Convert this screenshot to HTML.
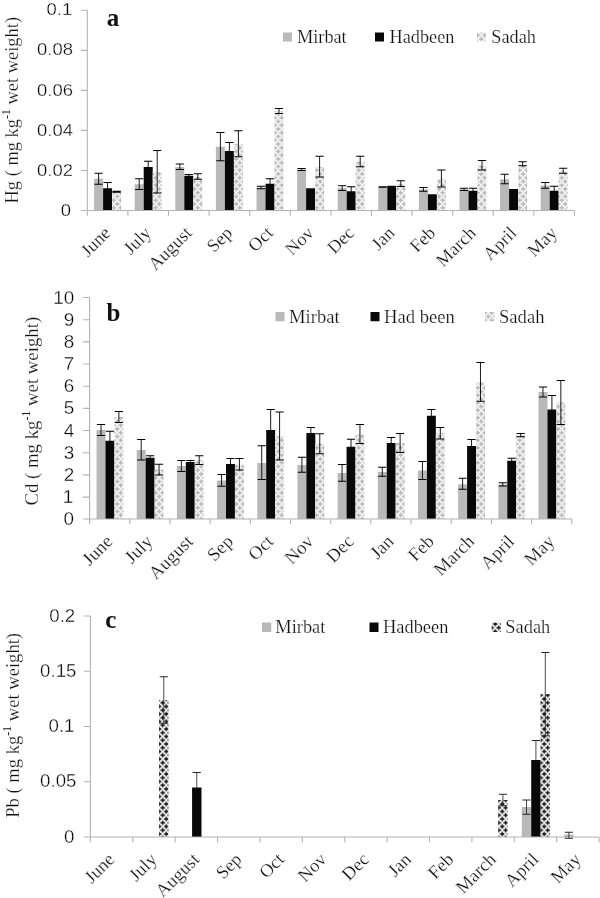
<!DOCTYPE html>
<html lang="en"><head><meta charset="utf-8"><title>Hg, Cd and Pb in fish: Mirbat, Hadbeen, Sadah</title>
<style>
html,body{margin:0;padding:0;background:#fff;}
body{width:600px;height:898px;overflow:hidden;}
svg{display:block;will-change:transform;}
.s{font-family:"Liberation Serif", "DejaVu Serif", serif;fill:#111;stroke:#fff;stroke-width:0.22;}
.n{font-family:"Liberation Sans", "DejaVu Sans", sans-serif;fill:#000;stroke:#fff;stroke-width:0.32;}
.ax{stroke:#b3b3b3;stroke-width:1.1;fill:none;}
.eb{stroke:#000;stroke-width:0.9;fill:none;}
.cap{stroke:#000;stroke-width:1.05;fill:none;}
#chart-c .eb{stroke:#1c1c1c;stroke-width:0.8;}
#chart-c .cap{stroke:#1c1c1c;stroke-width:0.95;}
</style></head><body>
<svg width="600" height="898" viewBox="0 0 600 898">
<defs>
<pattern id="pl" width="7.0" height="7.5" patternUnits="userSpaceOnUse" patternTransform="translate(5.25 1.5)"><rect width="7.0" height="7.5" fill="#fff"/><rect x="-2.45" y="-0.72" width="4.9" height="1.45" fill="#b2b2b2"/><rect x="-0.72" y="-2.45" width="1.45" height="4.9" fill="#b2b2b2"/><rect x="4.55" y="-0.72" width="4.9" height="1.45" fill="#b2b2b2"/><rect x="6.28" y="-2.45" width="1.45" height="4.9" fill="#b2b2b2"/><rect x="-2.45" y="6.78" width="4.9" height="1.45" fill="#b2b2b2"/><rect x="-0.72" y="5.05" width="1.45" height="4.9" fill="#b2b2b2"/><rect x="4.55" y="6.78" width="4.9" height="1.45" fill="#b2b2b2"/><rect x="6.28" y="5.05" width="1.45" height="4.9" fill="#b2b2b2"/><rect x="1.05" y="3.02" width="4.9" height="1.45" fill="#b2b2b2"/><rect x="2.77" y="1.3" width="1.45" height="4.9" fill="#b2b2b2"/></pattern>
<pattern id="pd" width="7.0" height="7.5" patternUnits="userSpaceOnUse" patternTransform="translate(5.25 1.5)"><rect width="7.0" height="7.5" fill="#fff"/><rect x="-2.25" y="-0.72" width="4.5" height="1.45" fill="#0a0a0a"/><rect x="-0.72" y="-2.25" width="1.45" height="4.5" fill="#0a0a0a"/><rect x="4.75" y="-0.72" width="4.5" height="1.45" fill="#0a0a0a"/><rect x="6.28" y="-2.25" width="1.45" height="4.5" fill="#0a0a0a"/><rect x="-2.25" y="6.78" width="4.5" height="1.45" fill="#0a0a0a"/><rect x="-0.72" y="5.25" width="1.45" height="4.5" fill="#0a0a0a"/><rect x="4.75" y="6.78" width="4.5" height="1.45" fill="#0a0a0a"/><rect x="6.28" y="5.25" width="1.45" height="4.5" fill="#0a0a0a"/><rect x="1.25" y="3.02" width="4.5" height="1.45" fill="#0a0a0a"/><rect x="2.77" y="1.5" width="1.45" height="4.5" fill="#0a0a0a"/></pattern>
</defs>
<rect width="600" height="898" fill="#fff"/>
<g id="chart-a">
<rect x="94.1" y="178.75" width="9" height="31.75" fill="#b9b9b9"/>
<rect x="103.1" y="188.25" width="9" height="22.25" fill="#080808"/>
<rect x="112.1" y="191.5" width="9" height="19" fill="url(#pl)"/>
<rect x="134.7" y="184.25" width="9" height="26.25" fill="#b9b9b9"/>
<rect x="143.7" y="167" width="9" height="43.5" fill="#080808"/>
<rect x="152.7" y="172" width="9" height="38.5" fill="url(#pl)"/>
<rect x="175.3" y="167" width="9" height="43.5" fill="#b9b9b9"/>
<rect x="184.3" y="175.75" width="9" height="34.75" fill="#080808"/>
<rect x="193.3" y="176.75" width="9" height="33.75" fill="url(#pl)"/>
<rect x="215.9" y="146.75" width="9" height="63.75" fill="#b9b9b9"/>
<rect x="224.9" y="151" width="9" height="59.5" fill="#080808"/>
<rect x="233.9" y="144.25" width="9" height="66.25" fill="url(#pl)"/>
<rect x="256.5" y="187.5" width="9" height="23" fill="#b9b9b9"/>
<rect x="265.5" y="183.75" width="9" height="26.75" fill="#080808"/>
<rect x="274.5" y="111" width="9" height="99.5" fill="url(#pl)"/>
<rect x="297.1" y="169.5" width="9" height="41" fill="#b9b9b9"/>
<rect x="306.1" y="188.25" width="9" height="22.25" fill="#080808"/>
<rect x="315.1" y="167" width="9" height="43.5" fill="url(#pl)"/>
<rect x="337.7" y="188" width="9" height="22.5" fill="#b9b9b9"/>
<rect x="346.7" y="191.25" width="9" height="19.25" fill="#080808"/>
<rect x="355.7" y="161.5" width="9" height="49" fill="url(#pl)"/>
<rect x="378.3" y="187" width="9" height="23.5" fill="#b9b9b9"/>
<rect x="387.3" y="185.75" width="9" height="24.75" fill="#080808"/>
<rect x="396.3" y="183.75" width="9" height="26.75" fill="url(#pl)"/>
<rect x="418.9" y="189.5" width="9" height="21" fill="#b9b9b9"/>
<rect x="427.9" y="194.25" width="9" height="16.25" fill="#080808"/>
<rect x="436.9" y="178.75" width="9" height="31.75" fill="url(#pl)"/>
<rect x="459.5" y="189.25" width="9" height="21.25" fill="#b9b9b9"/>
<rect x="468.5" y="190.75" width="9" height="19.75" fill="#080808"/>
<rect x="477.5" y="165.5" width="9" height="45" fill="url(#pl)"/>
<rect x="500.1" y="179.25" width="9" height="31.25" fill="#b9b9b9"/>
<rect x="509.1" y="189" width="9" height="21.5" fill="#080808"/>
<rect x="518.1" y="164.25" width="9" height="46.25" fill="url(#pl)"/>
<rect x="540.7" y="185.5" width="9" height="25" fill="#b9b9b9"/>
<rect x="549.7" y="190.75" width="9" height="19.75" fill="#080808"/>
<rect x="558.7" y="171.25" width="9" height="39.25" fill="url(#pl)"/>
<path class="ax" d="M87.3 10.3V215.7 M80.8 210.5H574.5 M80.8 10.3H87.3 M80.8 50.35H87.3 M80.8 90.4H87.3 M80.8 130.4H87.3 M80.8 170.45H87.3 M127.9 210.5v5.2 M168.5 210.5v5.2 M209.1 210.5v5.2 M249.7 210.5v5.2 M290.3 210.5v5.2 M330.9 210.5v5.2 M371.5 210.5v5.2 M412.1 210.5v5.2 M452.7 210.5v5.2 M493.3 210.5v5.2 M533.9 210.5v5.2 M574.5 210.5v5.2"/>
<path class="eb" d="M98.6 173.25V184.25"/><path class="cap" d="M94.5 173.25h8.2 M94.5 184.25h8.2"/><path class="eb" d="M107.6 182.5V188.75"/><path class="cap" d="M103.5 182.5h8.2"/><path class="eb" d="M116.6 191.3V192.3"/><path class="cap" d="M112.5 191.3h8.2 M112.5 192.3h8.2"/><path class="eb" d="M139.2 178.75V189.5"/><path class="cap" d="M135.1 178.75h8.2 M135.1 189.5h8.2"/><path class="eb" d="M148.2 161.25V167.5"/><path class="cap" d="M144.1 161.25h8.2"/><path class="eb" d="M157.2 150.5V193"/><path class="cap" d="M153.1 150.5h8.2 M153.1 193h8.2"/><path class="eb" d="M179.8 164V169.5"/><path class="cap" d="M175.7 164h8.2 M175.7 169.5h8.2"/><path class="eb" d="M188.8 174.5V176.25"/><path class="cap" d="M184.7 174.5h8.2"/><path class="eb" d="M197.8 173.75V179.25"/><path class="cap" d="M193.7 173.75h8.2 M193.7 179.25h8.2"/><path class="eb" d="M220.4 132.5V160.75"/><path class="cap" d="M216.3 132.5h8.2 M216.3 160.75h8.2"/><path class="eb" d="M229.4 142.5V151.5"/><path class="cap" d="M225.3 142.5h8.2"/><path class="eb" d="M238.4 130.75V156.75"/><path class="cap" d="M234.3 130.75h8.2 M234.3 156.75h8.2"/><path class="eb" d="M261 186.25V188.75"/><path class="cap" d="M256.9 186.25h8.2 M256.9 188.75h8.2"/><path class="eb" d="M270 178.75V184.25"/><path class="cap" d="M265.9 178.75h8.2"/><path class="eb" d="M279 108.4V113.4"/><path class="cap" d="M274.9 108.4h8.2 M274.9 113.4h8.2"/><path class="eb" d="M301.6 168.5V170.5"/><path class="cap" d="M297.5 168.5h8.2 M297.5 170.5h8.2"/><path class="eb" d="M319.6 156.25V177"/><path class="cap" d="M315.5 156.25h8.2 M315.5 177h8.2"/><path class="eb" d="M342.2 185.75V190.5"/><path class="cap" d="M338.1 185.75h8.2 M338.1 190.5h8.2"/><path class="eb" d="M351.2 186.75V191.75"/><path class="cap" d="M347.1 186.75h8.2"/><path class="eb" d="M360.2 156.25V166.75"/><path class="cap" d="M356.1 156.25h8.2 M356.1 166.75h8.2"/><path class="eb" d="M382.8 186.75V187.25"/><path class="cap" d="M378.7 186.75h8.2 M378.7 187.25h8.2"/><path class="eb" d="M400.8 180.75V186.5"/><path class="cap" d="M396.7 180.75h8.2 M396.7 186.5h8.2"/><path class="eb" d="M423.4 187.5V191.25"/><path class="cap" d="M419.3 187.5h8.2 M419.3 191.25h8.2"/><path class="eb" d="M441.4 170V187"/><path class="cap" d="M437.3 170h8.2 M437.3 187h8.2"/><path class="eb" d="M464 188.25V190.5"/><path class="cap" d="M459.9 188.25h8.2 M459.9 190.5h8.2"/><path class="eb" d="M473 188.25V191.25"/><path class="cap" d="M468.9 188.25h8.2"/><path class="eb" d="M482 160.5V170"/><path class="cap" d="M477.9 160.5h8.2 M477.9 170h8.2"/><path class="eb" d="M504.6 174.25V183.75"/><path class="cap" d="M500.5 174.25h8.2 M500.5 183.75h8.2"/><path class="eb" d="M522.6 161.75V165.75"/><path class="cap" d="M518.5 161.75h8.2 M518.5 165.75h8.2"/><path class="eb" d="M545.2 182.5V188.25"/><path class="cap" d="M541.1 182.5h8.2 M541.1 188.25h8.2"/><path class="eb" d="M554.2 186.25V191.25"/><path class="cap" d="M550.1 186.25h8.2"/><path class="eb" d="M563.2 168.25V173.25"/><path class="cap" d="M559.1 168.25h8.2 M559.1 173.25h8.2"/>
<text class="n" font-size="17.4" text-anchor="end" transform="translate(72.2 15.42) scale(1.06 1)">0.1</text>
<text class="n" font-size="17.4" text-anchor="end" transform="translate(72.9 55.47) scale(1.06 1)">0.08</text>
<text class="n" font-size="17.4" text-anchor="end" transform="translate(72.9 95.52) scale(1.06 1)">0.06</text>
<text class="n" font-size="17.4" text-anchor="end" transform="translate(72.9 135.52) scale(1.06 1)">0.04</text>
<text class="n" font-size="17.4" text-anchor="end" transform="translate(72.9 175.57) scale(1.06 1)">0.02</text>
<text class="n" font-size="17.4" text-anchor="end" transform="translate(70.9 215.62) scale(1.06 1)">0</text>
<text class="s" font-size="18.25" text-anchor="end" transform="translate(111.6 234) rotate(-45)">June</text>
<text class="s" font-size="18.25" text-anchor="end" transform="translate(152.2 234) rotate(-45)">July</text>
<text class="s" font-size="18.25" text-anchor="end" transform="translate(192.8 234) rotate(-45)">August</text>
<text class="s" font-size="18.25" text-anchor="end" transform="translate(233.4 234) rotate(-45)">Sep</text>
<text class="s" font-size="18.25" text-anchor="end" transform="translate(274 234) rotate(-45)">Oct</text>
<text class="s" font-size="18.25" text-anchor="end" transform="translate(314.6 234) rotate(-45)">Nov</text>
<text class="s" font-size="18.25" text-anchor="end" transform="translate(355.2 234) rotate(-45)">Dec</text>
<text class="s" font-size="18.25" text-anchor="end" transform="translate(395.8 234) rotate(-45)">Jan</text>
<text class="s" font-size="18.25" text-anchor="end" transform="translate(436.4 234) rotate(-45)">Feb</text>
<text class="s" font-size="18.25" text-anchor="end" transform="translate(477 234) rotate(-45)">March</text>
<text class="s" font-size="18.25" text-anchor="end" transform="translate(517.6 234) rotate(-45)">April</text>
<text class="s" font-size="18.25" text-anchor="end" transform="translate(558.2 234) rotate(-45)">May</text>
<text class="s" font-size="18.45" text-anchor="middle" transform="translate(18.2 110.2) rotate(-90)">Hg ( mg kg<tspan font-size="11.8" dy="-7.8" style="stroke:none">-1</tspan><tspan dy="7.8"> wet weight)</tspan></text>
<text class="s" font-size="25" font-weight="bold" stroke="none" style="stroke:none" x="106.7" y="25.5">a</text>
<rect x="283" y="32.5" width="9" height="9" fill="#b9b9b9"/>
<text class="s" font-size="18.25" x="297" y="42.6">Mirbat</text>
<rect x="375" y="32.5" width="9" height="9" fill="#080808"/>
<text class="s" font-size="18.25" x="389.5" y="42.6">Hadbeen</text>
<rect x="477" y="32.5" width="9" height="9" fill="url(#pl)"/>
<text class="s" font-size="18.25" x="491.25" y="42.6">Sadah</text>
</g>
<g id="chart-b">
<rect x="96.54" y="430" width="8.93" height="89" fill="#b9b9b9"/>
<rect x="105.47" y="440.75" width="8.93" height="78.25" fill="#080808"/>
<rect x="114.4" y="417" width="8.93" height="102" fill="url(#pl)"/>
<rect x="136.72" y="450" width="8.93" height="69" fill="#b9b9b9"/>
<rect x="145.65" y="457.75" width="8.93" height="61.25" fill="#080808"/>
<rect x="154.58" y="469.5" width="8.93" height="49.5" fill="url(#pl)"/>
<rect x="176.9" y="466" width="8.93" height="53" fill="#b9b9b9"/>
<rect x="185.83" y="462" width="8.93" height="57" fill="#080808"/>
<rect x="194.76" y="460" width="8.93" height="59" fill="url(#pl)"/>
<rect x="217.08" y="480.5" width="8.93" height="38.5" fill="#b9b9b9"/>
<rect x="226.01" y="464" width="8.93" height="55" fill="#080808"/>
<rect x="234.94" y="464.5" width="8.93" height="54.5" fill="url(#pl)"/>
<rect x="257.26" y="463" width="8.93" height="56" fill="#b9b9b9"/>
<rect x="266.19" y="430" width="8.93" height="89" fill="#080808"/>
<rect x="275.12" y="436.25" width="8.93" height="82.75" fill="url(#pl)"/>
<rect x="297.44" y="465" width="8.93" height="54" fill="#b9b9b9"/>
<rect x="306.37" y="433" width="8.93" height="86" fill="#080808"/>
<rect x="315.3" y="443.75" width="8.93" height="75.25" fill="url(#pl)"/>
<rect x="337.62" y="473" width="8.93" height="46" fill="#b9b9b9"/>
<rect x="346.55" y="446.75" width="8.93" height="72.25" fill="#080808"/>
<rect x="355.48" y="434" width="8.93" height="85" fill="url(#pl)"/>
<rect x="377.8" y="472" width="8.93" height="47" fill="#b9b9b9"/>
<rect x="386.73" y="443" width="8.93" height="76" fill="#080808"/>
<rect x="395.66" y="443" width="8.93" height="76" fill="url(#pl)"/>
<rect x="417.98" y="470.5" width="8.93" height="48.5" fill="#b9b9b9"/>
<rect x="426.91" y="415.75" width="8.93" height="103.25" fill="#080808"/>
<rect x="435.84" y="433.25" width="8.93" height="85.75" fill="url(#pl)"/>
<rect x="458.16" y="484.25" width="8.93" height="34.75" fill="#b9b9b9"/>
<rect x="467.09" y="446" width="8.93" height="73" fill="#080808"/>
<rect x="476.02" y="382" width="8.93" height="137" fill="url(#pl)"/>
<rect x="498.34" y="484.5" width="8.93" height="34.5" fill="#b9b9b9"/>
<rect x="507.27" y="460.75" width="8.93" height="58.25" fill="#080808"/>
<rect x="516.2" y="435.25" width="8.93" height="83.75" fill="url(#pl)"/>
<rect x="538.52" y="392" width="8.93" height="127" fill="#b9b9b9"/>
<rect x="547.45" y="409.5" width="8.93" height="109.5" fill="#080808"/>
<rect x="556.38" y="402.5" width="8.93" height="116.5" fill="url(#pl)"/>
<path class="ax" d="M89.6 297.5V524.2 M83.1 519H571.75 M83.1 297.5H89.6 M83.1 319.7H89.6 M83.1 341.85H89.6 M83.1 364H89.6 M83.1 386.2H89.6 M83.1 408.4H89.6 M83.1 430.55H89.6 M83.1 452.7H89.6 M83.1 474.9H89.6 M83.1 497.1H89.6 M129.78 519v5.2 M169.96 519v5.2 M210.14 519v5.2 M250.32 519v5.2 M290.5 519v5.2 M330.67 519v5.2 M370.85 519v5.2 M411.03 519v5.2 M451.21 519v5.2 M491.39 519v5.2 M531.57 519v5.2 M571.75 519v5.2"/>
<path class="eb" d="M101.01 424.5V435.5"/><path class="cap" d="M96.91 424.5h8.2 M96.91 435.5h8.2"/><path class="eb" d="M109.94 431.25V441.25"/><path class="cap" d="M105.84 431.25h8.2"/><path class="eb" d="M118.87 411.5V422.5"/><path class="cap" d="M114.77 411.5h8.2 M114.77 422.5h8.2"/><path class="eb" d="M141.19 439.5V460"/><path class="cap" d="M137.09 439.5h8.2 M137.09 460h8.2"/><path class="eb" d="M150.12 455.75V458.25"/><path class="cap" d="M146.02 455.75h8.2"/><path class="eb" d="M159.05 464.25V475"/><path class="cap" d="M154.95 464.25h8.2 M154.95 475h8.2"/><path class="eb" d="M181.37 460.5V471.5"/><path class="cap" d="M177.27 460.5h8.2 M177.27 471.5h8.2"/><path class="eb" d="M190.3 460.5V462.5"/><path class="cap" d="M186.2 460.5h8.2"/><path class="eb" d="M199.23 455.75V464.5"/><path class="cap" d="M195.13 455.75h8.2 M195.13 464.5h8.2"/><path class="eb" d="M221.55 474.5V486.25"/><path class="cap" d="M217.45 474.5h8.2 M217.45 486.25h8.2"/><path class="eb" d="M230.48 458.5V464.5"/><path class="cap" d="M226.38 458.5h8.2"/><path class="eb" d="M239.41 458.5V470"/><path class="cap" d="M235.31 458.5h8.2 M235.31 470h8.2"/><path class="eb" d="M261.73 445.75V479.5"/><path class="cap" d="M257.63 445.75h8.2 M257.63 479.5h8.2"/><path class="eb" d="M270.66 409.5V430.5"/><path class="cap" d="M266.56 409.5h8.2"/><path class="eb" d="M279.59 412V460"/><path class="cap" d="M275.49 412h8.2 M275.49 460h8.2"/><path class="eb" d="M301.91 457.25V472.25"/><path class="cap" d="M297.81 457.25h8.2 M297.81 472.25h8.2"/><path class="eb" d="M310.84 427.5V433.5"/><path class="cap" d="M306.74 427.5h8.2"/><path class="eb" d="M319.77 433.75V453.75"/><path class="cap" d="M315.67 433.75h8.2 M315.67 453.75h8.2"/><path class="eb" d="M342.08 464.5V481.25"/><path class="cap" d="M337.98 464.5h8.2 M337.98 481.25h8.2"/><path class="eb" d="M351.01 439.25V447.25"/><path class="cap" d="M346.91 439.25h8.2"/><path class="eb" d="M359.94 424.5V443.5"/><path class="cap" d="M355.84 424.5h8.2 M355.84 443.5h8.2"/><path class="eb" d="M382.26 467.25V476.25"/><path class="cap" d="M378.16 467.25h8.2 M378.16 476.25h8.2"/><path class="eb" d="M391.19 437.5V443.5"/><path class="cap" d="M387.09 437.5h8.2"/><path class="eb" d="M400.12 433.5V452.5"/><path class="cap" d="M396.02 433.5h8.2 M396.02 452.5h8.2"/><path class="eb" d="M422.44 461.5V479.5"/><path class="cap" d="M418.34 461.5h8.2 M418.34 479.5h8.2"/><path class="eb" d="M431.37 409.5V416.25"/><path class="cap" d="M427.27 409.5h8.2"/><path class="eb" d="M440.3 427.5V439"/><path class="cap" d="M436.2 427.5h8.2 M436.2 439h8.2"/><path class="eb" d="M462.62 478.25V489.25"/><path class="cap" d="M458.52 478.25h8.2 M458.52 489.25h8.2"/><path class="eb" d="M471.55 439.5V446.5"/><path class="cap" d="M467.45 439.5h8.2"/><path class="eb" d="M480.48 362.5V401.25"/><path class="cap" d="M476.38 362.5h8.2 M476.38 401.25h8.2"/><path class="eb" d="M502.8 482.75V486"/><path class="cap" d="M498.7 482.75h8.2 M498.7 486h8.2"/><path class="eb" d="M511.73 458.25V461.25"/><path class="cap" d="M507.63 458.25h8.2"/><path class="eb" d="M520.66 433.5V436.75"/><path class="cap" d="M516.56 433.5h8.2 M516.56 436.75h8.2"/><path class="eb" d="M542.98 387V397"/><path class="cap" d="M538.88 387h8.2 M538.88 397h8.2"/><path class="eb" d="M551.91 395.5V410"/><path class="cap" d="M547.81 395.5h8.2"/><path class="eb" d="M560.84 380.5V424.5"/><path class="cap" d="M556.74 380.5h8.2 M556.74 424.5h8.2"/>
<text class="n" font-size="18.0" text-anchor="end" transform="translate(74.2 303.58) scale(1.05 1)">10</text>
<text class="n" font-size="18.0" text-anchor="end" transform="translate(74.2 325.78) scale(1.05 1)">9</text>
<text class="n" font-size="18.0" text-anchor="end" transform="translate(74.2 347.93) scale(1.05 1)">8</text>
<text class="n" font-size="18.0" text-anchor="end" transform="translate(74.2 370.08) scale(1.05 1)">7</text>
<text class="n" font-size="18.0" text-anchor="end" transform="translate(74.2 392.28) scale(1.05 1)">6</text>
<text class="n" font-size="18.0" text-anchor="end" transform="translate(74.2 414.48) scale(1.05 1)">5</text>
<text class="n" font-size="18.0" text-anchor="end" transform="translate(74.2 436.63) scale(1.05 1)">4</text>
<text class="n" font-size="18.0" text-anchor="end" transform="translate(74.2 458.78) scale(1.05 1)">3</text>
<text class="n" font-size="18.0" text-anchor="end" transform="translate(74.2 480.98) scale(1.05 1)">2</text>
<text class="n" font-size="18.0" text-anchor="end" transform="translate(73.2 503.18) scale(1.05 1)">1</text>
<text class="n" font-size="18.0" text-anchor="end" transform="translate(73.9 525.08) scale(1.05 1)">0</text>
<text class="s" font-size="18.6" text-anchor="end" transform="translate(113.69 542.5) rotate(-45)">June</text>
<text class="s" font-size="18.6" text-anchor="end" transform="translate(153.87 542.5) rotate(-45)">July</text>
<text class="s" font-size="18.6" text-anchor="end" transform="translate(194.05 542.5) rotate(-45)">August</text>
<text class="s" font-size="18.6" text-anchor="end" transform="translate(234.23 542.5) rotate(-45)">Sep</text>
<text class="s" font-size="18.6" text-anchor="end" transform="translate(274.41 542.5) rotate(-45)">Oct</text>
<text class="s" font-size="18.6" text-anchor="end" transform="translate(314.59 542.5) rotate(-45)">Nov</text>
<text class="s" font-size="18.6" text-anchor="end" transform="translate(354.76 542.5) rotate(-45)">Dec</text>
<text class="s" font-size="18.6" text-anchor="end" transform="translate(394.94 542.5) rotate(-45)">Jan</text>
<text class="s" font-size="18.6" text-anchor="end" transform="translate(435.12 542.5) rotate(-45)">Feb</text>
<text class="s" font-size="18.6" text-anchor="end" transform="translate(475.3 542.5) rotate(-45)">March</text>
<text class="s" font-size="18.6" text-anchor="end" transform="translate(515.48 542.5) rotate(-45)">April</text>
<text class="s" font-size="18.6" text-anchor="end" transform="translate(555.66 542.5) rotate(-45)">May</text>
<text class="s" font-size="18.8" text-anchor="middle" transform="translate(37.6 411.2) rotate(-90)">Cd ( mg kg<tspan font-size="11.8" dy="-7.8" style="stroke:none">-1</tspan><tspan dy="7.8"> wet weight)</tspan></text>
<text class="s" font-size="25" font-weight="bold" stroke="none" style="stroke:none" x="106.5" y="321.3">b</text>
<rect x="275.5" y="312" width="9" height="9.25" fill="#b9b9b9"/>
<text class="s" font-size="18.6" x="289" y="322.8">Mirbat</text>
<rect x="370.5" y="312" width="9" height="9.25" fill="#080808"/>
<text class="s" font-size="18.6" x="384" y="322.8">Had been</text>
<rect x="485" y="312" width="9.5" height="9.25" fill="url(#pl)"/>
<text class="s" font-size="18.6" x="499" y="322.8">Sadah</text>
</g>
<g id="chart-c">
<rect x="159.09" y="700" width="9.4" height="137" fill="url(#pd)"/>
<rect x="192.08" y="787.5" width="9.4" height="49.5" fill="#080808"/>
<rect x="498.22" y="800" width="9.4" height="37" fill="url(#pd)"/>
<rect x="521.81" y="807" width="9.4" height="30" fill="#b9b9b9"/>
<rect x="531.21" y="760" width="9.4" height="77" fill="#080808"/>
<rect x="540.61" y="694" width="9.4" height="143" fill="url(#pd)"/>
<rect x="564.2" y="834.5" width="9.4" height="2.5" fill="#b9b9b9"/>
<path class="ax" d="M90.4 616V842.2 M83.9 837H599.1 M83.9 616H90.4 M83.9 671.25H90.4 M83.9 726.5H90.4 M83.9 781.75H90.4 M132.79 837v5.2 M175.18 837v5.2 M217.58 837v5.2 M259.97 837v5.2 M302.36 837v5.2 M344.75 837v5.2 M387.14 837v5.2 M429.53 837v5.2 M471.93 837v5.2 M514.32 837v5.2 M556.71 837v5.2 M599.1 837v5.2"/>
<path class="eb" d="M163.79 676.75V723.25"/><path class="cap" d="M159.69 676.75h8.2 M159.69 723.25h8.2"/><path class="eb" d="M196.78 772.5V788"/><path class="cap" d="M192.68 772.5h8.2"/><path class="eb" d="M502.92 794.25V805.75"/><path class="cap" d="M498.82 794.25h8.2 M498.82 805.75h8.2"/><path class="eb" d="M526.51 800V814.25"/><path class="cap" d="M522.41 800h8.2 M522.41 814.25h8.2"/><path class="eb" d="M535.91 740.5V760.5"/><path class="cap" d="M531.81 740.5h8.2"/><path class="eb" d="M545.31 652.5V735.75"/><path class="cap" d="M541.21 652.5h8.2 M541.21 735.75h8.2"/><path class="eb" d="M568.9 832.25V838.25"/><path class="cap" d="M564.8 832.25h8.2 M564.8 838.25h8.2"/>
<text class="n" font-size="18.3" text-anchor="end" transform="translate(75.2 621.69) scale(1.02 1)">0.2</text>
<text class="n" font-size="18.3" text-anchor="end" transform="translate(76.4 676.94) scale(1.02 1)">0.15</text>
<text class="n" font-size="18.3" text-anchor="end" transform="translate(74.5 732.19) scale(1.02 1)">0.1</text>
<text class="n" font-size="18.3" text-anchor="end" transform="translate(76.4 787.44) scale(1.02 1)">0.05</text>
<text class="n" font-size="18.3" text-anchor="end" transform="translate(74.3 842.69) scale(1.02 1)">0</text>
<text class="s" font-size="18.4" text-anchor="end" transform="translate(115.6 860.5) rotate(-45)">June</text>
<text class="s" font-size="18.4" text-anchor="end" transform="translate(157.99 860.5) rotate(-45)">July</text>
<text class="s" font-size="18.4" text-anchor="end" transform="translate(200.38 860.5) rotate(-45)">August</text>
<text class="s" font-size="18.4" text-anchor="end" transform="translate(242.77 860.5) rotate(-45)">Sep</text>
<text class="s" font-size="18.4" text-anchor="end" transform="translate(285.16 860.5) rotate(-45)">Oct</text>
<text class="s" font-size="18.4" text-anchor="end" transform="translate(327.55 860.5) rotate(-45)">Nov</text>
<text class="s" font-size="18.4" text-anchor="end" transform="translate(369.95 860.5) rotate(-45)">Dec</text>
<text class="s" font-size="18.4" text-anchor="end" transform="translate(412.34 860.5) rotate(-45)">Jan</text>
<text class="s" font-size="18.4" text-anchor="end" transform="translate(454.73 860.5) rotate(-45)">Feb</text>
<text class="s" font-size="18.4" text-anchor="end" transform="translate(497.12 860.5) rotate(-45)">March</text>
<text class="s" font-size="18.4" text-anchor="end" transform="translate(539.51 860.5) rotate(-45)">April</text>
<text class="s" font-size="18.4" text-anchor="end" transform="translate(581.9 860.5) rotate(-45)">May</text>
<text class="s" font-size="18.6" text-anchor="middle" transform="translate(18.9 725.4) rotate(-90)">Pb ( mg kg<tspan font-size="11.8" dy="-7.8" style="stroke:none">-1</tspan><tspan dy="7.8"> wet weight)</tspan></text>
<text class="s" font-size="25" font-weight="bold" stroke="none" style="stroke:none" x="105.3" y="628.3">c</text>
<rect x="262" y="622.5" width="9.25" height="9.5" fill="#b9b9b9"/>
<text class="s" font-size="18.4" x="275.3" y="633.3">Mirbat</text>
<rect x="369.5" y="622.5" width="9" height="9.5" fill="#080808"/>
<text class="s" font-size="18.4" x="383" y="633.3">Hadbeen</text>
<rect x="491.7" y="622.5" width="9.3" height="9.5" fill="url(#pd)"/>
<text class="s" font-size="18.4" x="505.3" y="633.3">Sadah</text>
</g>
</svg>
</body></html>
